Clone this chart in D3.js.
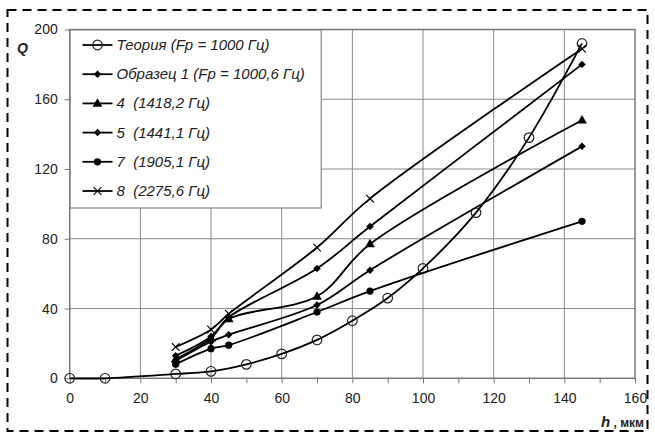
<!DOCTYPE html>
<html>
<head>
<meta charset="utf-8">
<script src="https://cdn.jsdelivr.net/npm/d3@7"></script>
<style>
  body { margin: 0; background: #fff; }
  text { font-family: "Liberation Sans", Arial, sans-serif; fill: #222; white-space: pre; }
</style>
</head>
<body>
<div id="chart"></div>
<script>
// theory curve
const theoryH = [0, 10, 30, 40, 50, 60, 70, 80, 90, 100, 115, 130, 145];
const theoryQ = [0, 0, 2.5, 4, 8, 14, 22, 33, 46, 63, 95, 138, 192];

// measured samples
const sampleH = [30, 40, 45, 70, 85, 145];
const sample1Q = [13, 24, 35, 63, 87, 180];
const sample4Q = [11, 23, 34, 47, 77, 148];
const sample5Q = [10, 21, 25, 42, 62, 133];
const sample7Q = [8, 17, 19, 38, 50, 90];
const sample8Q = [18, 28, 37, 75, 103, 189];

const legendLabels = [
    "Теория (Fp = 1000 Гц)",
    "Образец 1 (Fp = 1000,6 Гц)",
    "4  (1418,2 Гц)",
    "5  (1441,1 Гц)",
    "7  (1905,1 Гц)",
    "8  (2275,6 Гц)"
];
const xTicks = [0, 20, 40, 60, 80, 100, 120, 140, 160];
const yTicks = [0, 40, 80, 120, 160, 200];

const width = 655, height = 439;
const plot = { left: 69.7, right: 635, top: 29.5, bottom: 378.3 };

const svg = d3.select("#chart").append("svg")
    .attr("width", width)
    .attr("height", height);

// dashed frame round the whole figure
svg.append("rect")
    .attr("x", 7.5).attr("y", 10)
    .attr("width", 640).attr("height", 421)
    .attr("fill", "none")
    .attr("stroke", "#000")
    .attr("stroke-width", 2)
    .attr("stroke-dasharray", "9,6");

const x = d3.scaleLinear().domain([0, 160]).range([plot.left, plot.right]);
const y = d3.scaleLinear().domain([0, 200]).range([plot.bottom, plot.top]);

// grid
svg.append("g")
    .selectAll("line")
    .data(xTicks.slice(1, -1))
    .enter().append("line")
    .attr("x1", d => x(d)).attr("x2", d => x(d))
    .attr("y1", plot.top).attr("y2", plot.bottom)
    .attr("stroke", "#8a8a8a").attr("stroke-width", 1);

svg.append("g")
    .selectAll("line")
    .data(yTicks.slice(1, -1))
    .enter().append("line")
    .attr("x1", plot.left).attr("x2", plot.right)
    .attr("y1", d => y(d)).attr("y2", d => y(d))
    .attr("stroke", "#8a8a8a").attr("stroke-width", 1);

// axes
const xAxis = svg.append("g")
    .attr("transform", `translate(0,${plot.bottom})`)
    .call(d3.axisBottom(x).tickValues(d3.range(0, 161, 10)).tickSize(5).tickPadding(10)
        .tickFormat(d => d % 20 === 0 ? d : ""));
const yAxis = svg.append("g")
    .attr("transform", `translate(${plot.left},0)`)
    .call(d3.axisLeft(y).tickValues(yTicks).tickSize(5).tickPadding(7));

[xAxis, yAxis].forEach(a => {
    a.select(".domain").remove();
    a.selectAll("line").attr("stroke", "#777");
    a.selectAll("text").style("font-size", "14px").attr("fill", "#222");
});

svg.append("rect")
    .attr("x", plot.left).attr("y", plot.top)
    .attr("width", plot.right - plot.left).attr("height", plot.bottom - plot.top)
    .attr("fill", "none")
    .attr("stroke", "#777").attr("stroke-width", 1.5);

// axis titles
svg.append("text")
    .attr("x", 17).attr("y", 53)
    .style("font-size", "14px").style("font-weight", "bold").style("font-style", "italic")
    .text("Q");

const xTitle = svg.append("text")
    .attr("x", 601).attr("y", 427)
    .style("font-weight", "bold");
xTitle.append("tspan").style("font-size", "15px").style("font-style", "italic").text("h");
xTitle.append("tspan").style("font-size", "12px").text(" , мкм");

// series
const series = [
    { h: theoryH, q: theoryQ, marker: "openCircle" },
    { h: sampleH, q: sample1Q, marker: "diamond" },
    { h: sampleH, q: sample4Q, marker: "triangle" },
    { h: sampleH, q: sample5Q, marker: "diamond" },
    { h: sampleH, q: sample7Q, marker: "circle" },
    { h: sampleH, q: sample8Q, marker: "x" }
];

const line = d3.line()
    .x(d => x(d[0]))
    .y(d => y(d[1]))
    .curve(d3.curveCatmullRom.alpha(0.5));

function drawMarker(g, type, cx, cy) {
    if (type === "openCircle") {
        g.append("circle").attr("cx", cx).attr("cy", cy).attr("r", 4.8)
            .attr("fill", "none").attr("stroke", "#222").attr("stroke-width", 1.2);
    } else if (type === "circle") {
        g.append("circle").attr("cx", cx).attr("cy", cy).attr("r", 3.6).attr("fill", "#000");
    } else if (type === "diamond") {
        g.append("path").attr("d", d3.symbol(d3.symbolSquare, 28)())
            .attr("transform", `translate(${cx},${cy}) rotate(45)`).attr("fill", "#000");
    } else if (type === "triangle") {
        g.append("path").attr("d", d3.symbol(d3.symbolTriangle, 42)())
            .attr("transform", `translate(${cx},${cy + 0.5})`).attr("fill", "#000");
    } else if (type === "x") {
        g.append("path").attr("d", d3.symbol(d3.symbolX, 40)())
            .attr("transform", `translate(${cx},${cy})`)
            .attr("fill", "none").attr("stroke", "#000").attr("stroke-width", 1.1);
    }
}

const seriesGroup = svg.append("g");
series.forEach(s => {
    const pts = s.h.map((h, i) => [h, s.q[i]]);
    seriesGroup.append("path")
        .attr("d", line(pts))
        .attr("fill", "none")
        .attr("stroke", "#000")
        .attr("stroke-width", 1.8);
    const mg = seriesGroup.append("g");
    pts.forEach(p => drawMarker(mg, s.marker, x(p[0]), y(p[1])));
});

// legend
const legend = svg.append("g");
legend.append("rect")
    .attr("x", plot.left + 0.5).attr("y", plot.top + 0.5)
    .attr("width", 251).attr("height", 178)
    .attr("fill", "#fff")
    .attr("stroke", "#888").attr("stroke-width", 1.2);

legendLabels.forEach((label, i) => {
    const ly = 45 + i * 29.2;
    legend.append("line")
        .attr("x1", 82.5).attr("x2", 112.5)
        .attr("y1", ly).attr("y2", ly)
        .attr("stroke", "#000").attr("stroke-width", 1.8);
    drawMarker(legend, series[i].marker, 97.5, ly);
    legend.append("text")
        .attr("x", 116.5).attr("y", ly + 5)
        .style("font-size", "15px").style("font-style", "italic")
        .text(label);
});
</script>
</body>
</html>
